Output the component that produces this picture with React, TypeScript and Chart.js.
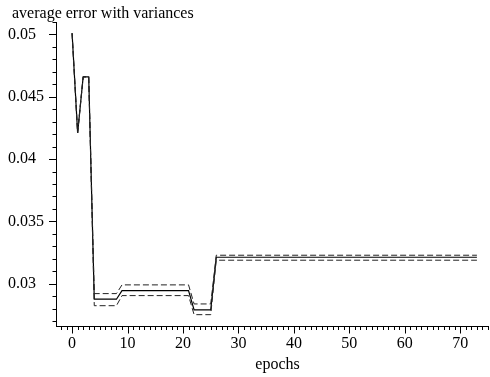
import React, { useEffect, useRef } from 'react';
import { Chart, registerables } from 'chart.js';

Chart.register(...registerables);

// Epoch breakpoints (values are constant between consecutive breakpoints)
const epochs = [0, 1, 2, 3, 4, 8, 9, 21, 22, 25, 26, 73];
const meanError = [0.0501, 0.0421, 0.0466, 0.0466, 0.02875, 0.02875, 0.02944, 0.02944, 0.02789, 0.02789, 0.03212, 0.03212];
const upperError = [0.0501, 0.0421, 0.0466, 0.0466, 0.0292, 0.0292, 0.0299, 0.0299, 0.02837, 0.02837, 0.03228, 0.03228];
const lowerError = [0.0501, 0.0421, 0.0466, 0.0466, 0.02823, 0.02823, 0.02904, 0.02904, 0.02751, 0.02751, 0.03188, 0.03188];

const xTickLabels = [0, 10, 20, 30, 40, 50, 60, 70];
const yTickLabels = [0.03, 0.035, 0.04, 0.045, 0.05];

const chartTitle = 'average error with variances';
const xAxisTitle = 'epochs';

const FONT = "'Liberation Serif', 'Times New Roman', serif";

const tickPlugin = {
  id: 'customTicks',
  afterDraw(chart: any) {
    const ctx = chart.ctx;
    const xs = chart.scales.x;
    const ys = chart.scales.y;
    const area = chart.chartArea;
    ctx.save();
    ctx.strokeStyle = '#000';
    ctx.lineWidth = 1;
    ctx.beginPath();
    // y ticks every 0.001
    for (let i = 27; i <= 51; i++) {
      const v = i / 1000;
      const py = Math.round(ys.getPixelForValue(v)) + 0.5;
      const len = i % 5 === 0 ? 7 : 3.5;
      ctx.moveTo(area.left - len, py);
      ctx.lineTo(area.left, py);
    }
    // x ticks every 1
    for (let i = -2; i <= 75; i++) {
      const px = Math.round(xs.getPixelForValue(i)) + 0.5;
      const len = i % 10 === 0 ? 7.5 : 4;
      ctx.moveTo(px, area.bottom);
      ctx.lineTo(px, area.bottom + len);
    }
    ctx.stroke();

    ctx.fillStyle = '#000';
    ctx.font = `16px ${FONT}`;
    ctx.textBaseline = 'alphabetic';
    ctx.textAlign = 'left';
    ctx.fillText(chartTitle, 12, 17.5);
    ctx.textAlign = 'center';
    ctx.fillText(xAxisTitle, 277.5, 369);
    ctx.restore();
  },
};

export default function App() {
  const canvasRef = useRef<HTMLCanvasElement | null>(null);

  useEffect(() => {
    if (!canvasRef.current) return;
    const toPoints = (arr: number[]) => epochs.map((e, i) => ({ x: e, y: arr[i] }));
    const chart = new Chart(canvasRef.current, {
      type: 'line',
      data: {
        datasets: [
          {
            label: 'upper',
            data: toPoints(upperError),
            borderColor: '#222',
            borderWidth: 1,
            borderDash: [6, 3],
            pointRadius: 0,
            tension: 0,
            fill: false,
          },
          {
            label: 'lower',
            data: toPoints(lowerError),
            borderColor: '#222',
            borderWidth: 1,
            borderDash: [6, 3],
            pointRadius: 0,
            tension: 0,
            fill: false,
          },
          {
            label: 'mean',
            data: toPoints(meanError),
            borderColor: '#000',
            borderWidth: 1.2,
            pointRadius: 0,
            tension: 0,
            fill: false,
          },
        ],
      },
      options: {
        animation: false,
        responsive: false,
        devicePixelRatio: 1,
        layout: { padding: { left: 8, top: 22, right: 2, bottom: 0 } },
        plugins: {
          legend: { display: false },
          tooltip: { enabled: false },
          title: { display: false },
        },
        scales: {
          x: {
            type: 'linear',
            min: -2.9,
            max: 75,
            afterBuildTicks: (s: any) => {
              s.ticks = xTickLabels.map((v) => ({ value: v }));
            },
            afterFit: (s: any) => {
              s.height = 51;
            },
            grid: { display: false, drawTicks: false },
            border: { display: true, color: '#000', width: 1 },
            ticks: {
              color: '#000',
              font: { family: FONT, size: 16 },
              padding: 8,
              maxRotation: 0,
              autoSkip: false,
              callback: (v: any) => String(v),
            },
          },
          y: {
            type: 'linear',
            min: 0.0266,
            max: 0.051,
            afterBuildTicks: (s: any) => {
              s.ticks = yTickLabels.map((v) => ({ value: v }));
            },
            afterFit: (s: any) => {
              s.width = 48;
            },
            grid: { display: false, drawTicks: false },
            border: { display: true, color: '#000', width: 1 },
            ticks: {
              color: '#000',
              font: { family: FONT, size: 16 },
              crossAlign: 'far',
              autoSkip: false,
              callback: (v: any) => String(v),
            },
          },
        },
      },
      plugins: [tickPlugin],
    });
    return () => chart.destroy();
  }, []);

  return (
    <div style={{ position: 'absolute', left: 0, top: 0, width: 490, height: 377, background: '#fff' }}>
      <canvas ref={canvasRef} width={490} height={377} style={{ width: 490, height: 377, display: 'block' }} />
    </div>
  );
}
